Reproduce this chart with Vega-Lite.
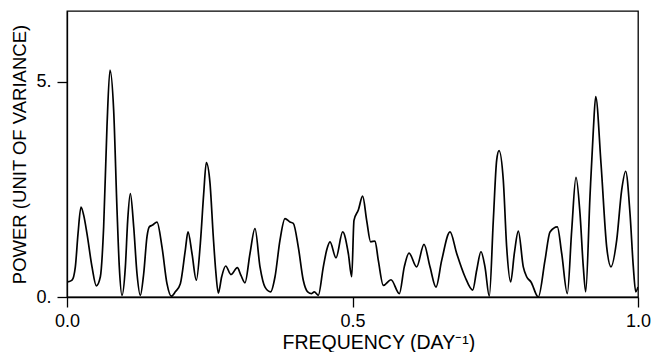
{
  "$schema": "https://vega.github.io/schema/vega-lite/v6.json",
  "width": 571,
  "height": 286,
  "autosize": {"type": "none"},
  "padding": {"left": 67, "top": 11, "right": 15, "bottom": 55},
  "background": "white",
  "config": {
    "view": {"stroke": "black", "strokeWidth": 1.3},
    "font": "Liberation Sans",
    "axis": {
      "grid": false,
      "domainColor": "black",
      "domainWidth": 1.3,
      "tickColor": "black",
      "tickWidth": 1.3,
      "tickSize": 10,
      "labelColor": "black",
      "titleColor": "black",
      "labelFont": "Liberation Sans",
      "titleFont": "Liberation Sans",
      "labelFontSize": 18,
      "titleFontSize": 18.5,
      "titleFontWeight": "normal",
      "labelFlush": false
    }
  },
  "data": {
    "values": [
      {"f": 0.0018, "p": 0.35},
      {"f": 0.0088, "p": 0.39},
      {"f": 0.0146, "p": 0.70},
      {"f": 0.0193, "p": 1.47},
      {"f": 0.0245, "p": 2.09},
      {"f": 0.0292, "p": 1.90},
      {"f": 0.0350, "p": 1.47},
      {"f": 0.0438, "p": 0.70},
      {"f": 0.0514, "p": 0.26},
      {"f": 0.0584, "p": 0.47},
      {"f": 0.0642, "p": 1.63},
      {"f": 0.0700, "p": 3.95},
      {"f": 0.0753, "p": 5.27},
      {"f": 0.0817, "p": 4.34},
      {"f": 0.0876, "p": 2.02},
      {"f": 0.0916, "p": 0.70},
      {"f": 0.0963, "p": 0.04},
      {"f": 0.1022, "p": 0.70},
      {"f": 0.1063, "p": 1.78},
      {"f": 0.1109, "p": 2.40},
      {"f": 0.1168, "p": 1.63},
      {"f": 0.1226, "p": 0.54},
      {"f": 0.1284, "p": 0.04},
      {"f": 0.1343, "p": 0.54},
      {"f": 0.1401, "p": 1.40},
      {"f": 0.1441, "p": 1.63},
      {"f": 0.1500, "p": 1.67},
      {"f": 0.1576, "p": 1.74},
      {"f": 0.1664, "p": 1.16},
      {"f": 0.1751, "p": 0.31},
      {"f": 0.1827, "p": 0.02},
      {"f": 0.1897, "p": 0.12},
      {"f": 0.1985, "p": 0.31},
      {"f": 0.2072, "p": 1.09},
      {"f": 0.2119, "p": 1.51},
      {"f": 0.2189, "p": 1.01},
      {"f": 0.2265, "p": 0.39},
      {"f": 0.2335, "p": 1.24},
      {"f": 0.2394, "p": 2.40},
      {"f": 0.2440, "p": 3.12},
      {"f": 0.2504, "p": 2.65},
      {"f": 0.2562, "p": 1.40},
      {"f": 0.2604, "p": 0.62},
      {"f": 0.2650, "p": 0.09},
      {"f": 0.2709, "p": 0.47},
      {"f": 0.2779, "p": 0.72},
      {"f": 0.2872, "p": 0.52},
      {"f": 0.2983, "p": 0.68},
      {"f": 0.3047, "p": 0.50},
      {"f": 0.3117, "p": 0.33},
      {"f": 0.3205, "p": 1.01},
      {"f": 0.3292, "p": 1.59},
      {"f": 0.3380, "p": 0.70},
      {"f": 0.3468, "p": 0.23},
      {"f": 0.3567, "p": 0.12},
      {"f": 0.3643, "p": 0.47},
      {"f": 0.3730, "p": 1.32},
      {"f": 0.3818, "p": 1.82},
      {"f": 0.3905, "p": 1.74},
      {"f": 0.3963, "p": 1.71},
      {"f": 0.4051, "p": 1.16},
      {"f": 0.4138, "p": 0.39},
      {"f": 0.4215, "p": 0.12},
      {"f": 0.4285, "p": 0.08},
      {"f": 0.4331, "p": 0.12},
      {"f": 0.4401, "p": 0.04},
      {"f": 0.4489, "p": 0.70},
      {"f": 0.4548, "p": 1.09},
      {"f": 0.4606, "p": 1.28},
      {"f": 0.4711, "p": 0.91},
      {"f": 0.4828, "p": 1.51},
      {"f": 0.4927, "p": 1.01},
      {"f": 0.4986, "p": 0.47},
      {"f": 0.5026, "p": 1.78},
      {"f": 0.5102, "p": 2.02},
      {"f": 0.5178, "p": 2.34},
      {"f": 0.5248, "p": 1.78},
      {"f": 0.5318, "p": 1.28},
      {"f": 0.5394, "p": 1.30},
      {"f": 0.5452, "p": 0.85},
      {"f": 0.5540, "p": 0.27},
      {"f": 0.5674, "p": 0.40},
      {"f": 0.5820, "p": 0.08},
      {"f": 0.5907, "p": 0.70},
      {"f": 0.5990, "p": 1.02},
      {"f": 0.6124, "p": 0.70},
      {"f": 0.6252, "p": 1.22},
      {"f": 0.6357, "p": 0.70},
      {"f": 0.6462, "p": 0.23},
      {"f": 0.6562, "p": 0.85},
      {"f": 0.6708, "p": 1.51},
      {"f": 0.6825, "p": 1.01},
      {"f": 0.6970, "p": 0.47},
      {"f": 0.7105, "p": 0.16},
      {"f": 0.7175, "p": 0.62},
      {"f": 0.7250, "p": 1.05},
      {"f": 0.7320, "p": 0.70},
      {"f": 0.7396, "p": 0.02},
      {"f": 0.7466, "p": 1.78},
      {"f": 0.7525, "p": 3.18},
      {"f": 0.7566, "p": 3.40},
      {"f": 0.7641, "p": 2.71},
      {"f": 0.7700, "p": 1.16},
      {"f": 0.7770, "p": 0.35},
      {"f": 0.7834, "p": 1.01},
      {"f": 0.7904, "p": 1.53},
      {"f": 0.7991, "p": 0.70},
      {"f": 0.8050, "p": 0.47},
      {"f": 0.8126, "p": 0.35},
      {"f": 0.8254, "p": 0.00},
      {"f": 0.8371, "p": 0.85},
      {"f": 0.8459, "p": 1.51},
      {"f": 0.8587, "p": 1.63},
      {"f": 0.8664, "p": 1.01},
      {"f": 0.8762, "p": 0.08},
      {"f": 0.8839, "p": 1.55},
      {"f": 0.8914, "p": 2.78},
      {"f": 0.8984, "p": 1.94},
      {"f": 0.9042, "p": 0.70},
      {"f": 0.9084, "p": 0.12},
      {"f": 0.9159, "p": 2.33},
      {"f": 0.9218, "p": 3.88},
      {"f": 0.9259, "p": 4.65},
      {"f": 0.9352, "p": 3.10},
      {"f": 0.9452, "p": 1.16},
      {"f": 0.9527, "p": 0.70},
      {"f": 0.9627, "p": 1.32},
      {"f": 0.9714, "p": 2.48},
      {"f": 0.9784, "p": 2.92},
      {"f": 0.9860, "p": 1.94},
      {"f": 0.9918, "p": 0.70},
      {"f": 0.9960, "p": 0.12},
      {"f": 1.0000, "p": 0.23}
    ]
  },
  "mark": {"type": "line", "color": "black", "strokeWidth": 1.7, "interpolate": "monotone", "clip": true},
  "encoding": {
    "x": {
      "field": "f",
      "type": "quantitative",
      "scale": {"domain": [0, 1], "nice": false, "zero": false},
      "axis": {
        "values": [0, 0.5, 1],
        "format": ".1f",
        "labelPadding": 5,
        "title": "FREQUENCY (DAY⁻¹)",
        "titleFontSize": 19.5,
        "titleAlign": "left",
        "titleAnchor": "start",
        "titleX": 215,
        "titlePadding": 3
      }
    },
    "y": {
      "field": "p",
      "type": "quantitative",
      "scale": {"domain": [0, 6.64], "nice": false},
      "axis": {
        "values": [0, 5],
        "labelExpr": "datum.value + '.'",
        "labelPadding": 6,
        "title": "POWER (UNIT OF VARIANCE)",
        "titlePadding": 6
      }
    }
  }
}
